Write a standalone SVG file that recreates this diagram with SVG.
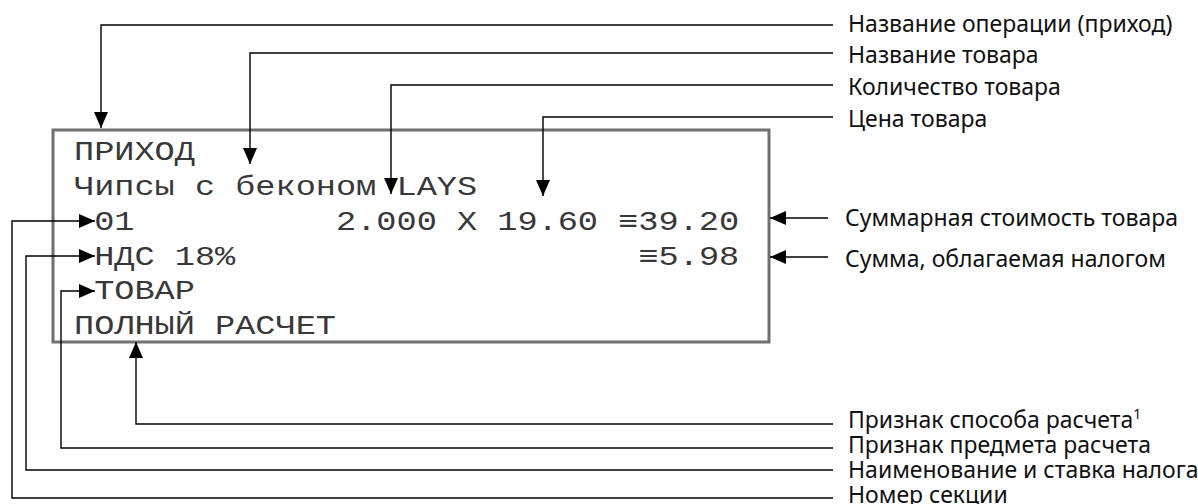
<svg xmlns="http://www.w3.org/2000/svg" width="1198" height="504" viewBox="0 0 1198 504">
<style>
.lbl{font-family:"Noto Sans","Liberation Sans",sans-serif;font-size:23px;fill:#111}
.mono{font-family:"Liberation Mono","DejaVu Sans Mono",monospace;font-size:28px;fill:#383838}
.conn{fill:none;stroke:#000;stroke-width:1.4}
.box{fill:none;stroke:#707070;stroke-width:3}
</style>
<defs>
<marker id="ah" markerUnits="userSpaceOnUse" markerWidth="16" markerHeight="14" refX="16" refY="7" orient="auto">
<path d="M0,0 L16,7 L0,14 z" fill="#000"/>
</marker>
</defs>
<g id="receipt">
<rect class="box" x="53" y="130" width="716" height="212"/>
<g transform="translate(74,0) scale(1.2,1)" class="mono">
<text x="0" y="160">ПРИХОД</text>
<text x="0" y="195">Чипсы с беконом</text>
<text x="268.8" y="195">LAYS</text>
<text x="16.8" y="230">01</text>
<text x="218.4" y="230">2.000 X 19.60 ≡39.20</text>
<text x="16.8" y="265">НДС 18%</text>
<text x="470.4" y="265">≡5.98</text>
<text x="16.8" y="299">ТОВАР</text>
<text x="0" y="334">ПОЛНЫЙ РАСЧЕТ</text>
</g>
</g>
<g id="connectors">
<path class="conn" marker-end="url(#ah)" d="M833,25 H101 V128"/>
<path class="conn" marker-end="url(#ah)" d="M833,53 H250 V164"/>
<path class="conn" marker-end="url(#ah)" d="M833,85 H391 V194"/>
<path class="conn" marker-end="url(#ah)" d="M833,117 H543 V196"/>
<path class="conn" marker-end="url(#ah)" d="M828,218 H770"/>
<path class="conn" marker-end="url(#ah)" d="M828,257 H770"/>
<path class="conn" marker-end="url(#ah)" d="M833,424 H136 V342"/>
<path class="conn" marker-end="url(#ah)" d="M833,448 H61 V291 H95"/>
<path class="conn" marker-end="url(#ah)" d="M833,470 H26 V256 H95"/>
<path class="conn" marker-end="url(#ah)" d="M833,498 H12 V221 H95"/>
</g>
<g id="label-operation"><text class="lbl" x="848" y="32">Название операции (приход)</text></g>
<g id="label-name"><text class="lbl" x="848" y="63">Название товара</text></g>
<g id="label-qty"><text class="lbl" x="848" y="95">Количество товара</text></g>
<g id="label-price"><text class="lbl" x="848" y="127">Цена товара</text></g>
<g id="label-total"><text class="lbl" x="845" y="226">Суммарная стоимость товара</text></g>
<g id="label-taxsum"><text class="lbl" x="845" y="267">Сумма, облагаемая налогом</text></g>
<g id="label-method"><text class="lbl" x="848" y="428">Признак способа расчета<tspan font-size="14" dy="-9">1</tspan></text></g>
<g id="label-subject"><text class="lbl" x="848" y="453">Признак предмета расчета</text></g>
<g id="label-tax"><text class="lbl" x="848" y="478">Наименование и ставка налога</text></g>
<g id="label-section"><text class="lbl" x="848" y="503">Номер секции</text></g>
</svg>
